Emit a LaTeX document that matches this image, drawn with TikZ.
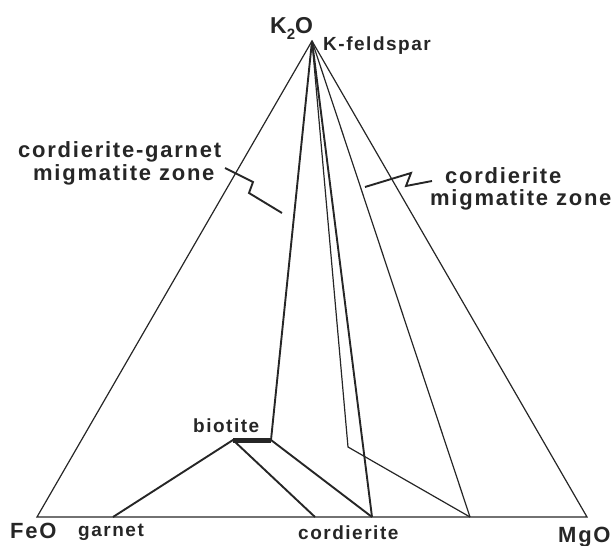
\documentclass[tikz,border=0pt]{standalone}
\usepackage{fontspec}
\setmainfont{Liberation Sans}[LetterSpace=8]
\begin{document}
\begin{tikzpicture}[x=1pt,y=-1pt,
  thinln/.style={line width=1.2pt,black!85},
  thickln/.style={line width=1.9pt,black!85},
  lbl/.style={inner sep=0pt,anchor=base west,font=\bfseries\fontsize{19}{19}\selectfont,text=black!85},
  zone/.style={inner sep=0pt,anchor=base west,font=\bfseries\fontsize{22}{22}\selectfont,text=black!85},
  big/.style={inner sep=0pt,anchor=base west,font=\bfseries\fontsize{22}{22}\selectfont,text=black!85}]
\useasboundingbox (0,0) rectangle (614,546);
% corner and join points
\coordinate (K) at (312,41);
\coordinate (F) at (37,517);
\coordinate (M) at (587,517);
\coordinate (B1) at (233,440);
\coordinate (B2) at (271,440);
\coordinate (G) at (113,517);
\coordinate (C1) at (315,517);
\coordinate (C2) at (372,517);
\coordinate (C3) at (470,517);
\coordinate (P) at (348,447);
% outer triangle
\draw[thinln,line join=miter] (K) -- (F) -- (M) -- cycle;
% tie lines
\draw[thickln] (K) -- (B2);
\draw[thickln] (K) -- (C2);
\draw[thinln] (K) -- (P) -- (C3);
\draw[thinln] (K) -- (C3);
\draw[thickln] (G) -- (B1) -- (C1);
\draw[thickln] (B2) -- (C2);
\draw[line width=5pt,black!85] (B1) -- (B2);
% zigzag markers
\coordinate (zl1) at (225,168); \coordinate (zl2) at (253,182);
\coordinate (zl3) at (249,193); \coordinate (zl4) at (282,213);
\draw[thickln,line join=miter] (zl1) -- (zl2) -- (zl3) -- (zl4);
\coordinate (zr1) at (365,187); \coordinate (zr2) at (411,173);
\coordinate (zr3) at (406,186); \coordinate (zr4) at (432,181);
\draw[thickln,line join=miter] (zr1) -- (zr2) -- (zr3) -- (zr4);
% labels
\node[big,font=\bfseries\fontsize{23}{23}\selectfont] (k2o) at (270,33) {K\raisebox{-0.28em}{\fontsize{15}{15}\selectfont 2}O};
\node[lbl] (kf) at (323,50) {K-feldspar};
\node[zone] (zl) at (18,157) {cordierite-garnet};
\node[zone] (zlb) at (33,180) {migmatite zone};
\node[zone] (zr) at (445,183) {cordierite};
\node[zone] (zrb) at (430,205) {migmatite zone};
\node[lbl] (bio) at (193,432) {biotite};
\node[big] (feo) at (10,538) {FeO};
\node[lbl] (gar) at (78,536) {garnet};
\node[lbl] (cord) at (298,539) {cordierite};
\node[big] (mgo) at (558,542) {MgO};
\end{tikzpicture}
\end{document}
